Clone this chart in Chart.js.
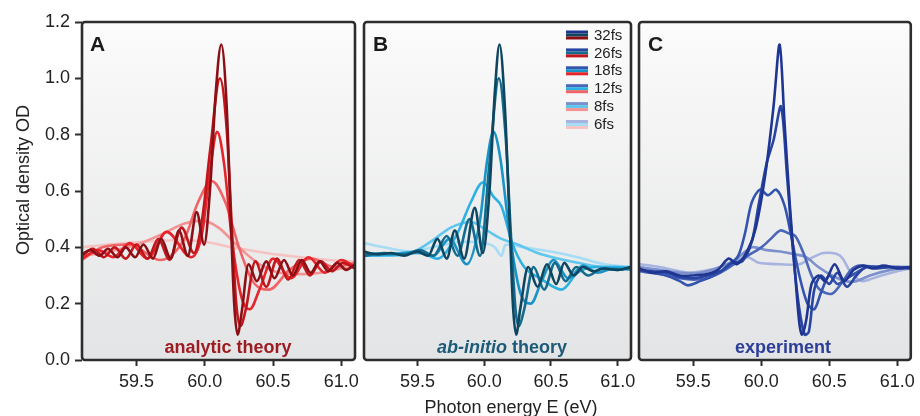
<!DOCTYPE html>
<html>
<head>
<meta charset="utf-8">
<script src="https://cdn.jsdelivr.net/npm/chart.js@4.4.0/dist/chart.umd.min.js"></script>
<style>
  body { margin: 0; background: #fff; }
  #wrap { position: relative; width: 920px; height: 416px; overflow: hidden; }
  #wrap canvas { position: absolute; left: 0; top: 0; }
</style>
</head>
<body>
<div id="wrap">
  <canvas id="panelA" width="920" height="416"></canvas>
  <canvas id="panelB" width="920" height="416"></canvas>
  <canvas id="panelC" width="920" height="416"></canvas>
</div>
<script>
const FONT = '"Liberation Sans", Arial, Helvetica, sans-serif';

// axis ranges + ticks
const xMin = 59.1, xMax = 61.1;
const xTicks = [59.5, 60.0, 60.5, 61.0];
const yTicks = [0, 0.2, 0.4, 0.6, 0.8, 1.0, 1.2];
const pulseLabels = ['32fs', '26fs', '18fs', '12fs', '8fs', '6fs'];

const redShades  = ['#8a1016', '#c2161d', '#e6242a', '#ef6467', '#f39394', '#f7c2c2'];
const tealShades = ['#0e4660', '#136c8e', '#1a94c6', '#2db1e3', '#5fc6ee', '#a6ddf5'];
const blueShades = ['#1e3591', '#2845a2', '#3453ae', '#4a66b8', '#7b90cc', '#a6b4df'];

// ---- A: analytic theory  [photon energy, OD]
const a32 = [[59.10,0.375],[59.16,0.39],[59.23,0.37],[59.29,0.395],[59.36,0.365],[59.42,0.40],[59.49,0.365],[59.55,0.41],[59.62,0.36],[59.68,0.43],[59.75,0.36],[59.81,0.46],[59.875,0.37],[59.94,0.525],[59.995,0.41],[60.04,0.62],[60.08,0.95],[60.12,1.12],[60.16,0.90],[60.19,0.50],[60.215,0.20],[60.24,0.09],[60.27,0.17],[60.32,0.34],[60.38,0.28],[60.45,0.35],[60.51,0.29],[60.58,0.355],[60.645,0.30],[60.71,0.355],[60.775,0.31],[60.84,0.35],[60.905,0.315],[60.97,0.345],[61.035,0.32],[61.1,0.34]];
const a26 = [[59.10,0.37],[59.18,0.395],[59.26,0.365],[59.34,0.40],[59.42,0.36],[59.50,0.41],[59.58,0.36],[59.66,0.43],[59.74,0.355],[59.83,0.47],[59.92,0.38],[59.98,0.50],[60.04,0.75],[60.11,1.00],[60.16,0.82],[60.20,0.45],[60.23,0.20],[60.26,0.12],[60.30,0.18],[60.37,0.35],[60.45,0.26],[60.53,0.36],[60.61,0.285],[60.69,0.355],[60.77,0.30],[60.85,0.35],[60.93,0.315],[61.01,0.345],[61.1,0.325]];
const a18 = [[59.10,0.36],[59.22,0.39],[59.33,0.365],[59.45,0.415],[59.58,0.36],[59.72,0.455],[59.90,0.365],[59.98,0.45],[60.04,0.68],[60.09,0.81],[60.14,0.70],[60.20,0.42],[60.27,0.22],[60.33,0.18],[60.40,0.25],[60.50,0.36],[60.63,0.29],[60.76,0.365],[60.88,0.31],[61.0,0.355],[61.1,0.33]];
const a12 = [[59.10,0.355],[59.25,0.40],[59.45,0.41],[59.67,0.355],[59.85,0.43],[59.95,0.56],[60.05,0.635],[60.15,0.56],[60.25,0.40],[60.35,0.28],[60.47,0.25],[60.62,0.32],[60.78,0.36],[60.95,0.33],[61.1,0.345]];
const a8  = [[59.10,0.37],[59.30,0.385],[59.50,0.41],[59.70,0.45],[59.85,0.485],[59.98,0.495],[60.10,0.47],[60.25,0.40],[60.40,0.34],[60.55,0.31],[60.72,0.305],[60.85,0.31],[61.0,0.325],[61.1,0.33]];
const a6  = [[59.10,0.40],[59.30,0.41],[59.55,0.42],[59.80,0.425],[60.00,0.42],[60.20,0.40],[60.45,0.38],[60.70,0.365],[60.90,0.355],[61.1,0.35]];

// ---- B: ab-initio theory
const b32 = [[59.10,0.385],[59.20,0.375],[59.30,0.38],[59.40,0.37],[59.50,0.385],[59.58,0.37],[59.65,0.43],[59.72,0.36],[59.78,0.46],[59.85,0.36],[59.93,0.54],[59.99,0.38],[60.04,0.60],[60.08,0.95],[60.115,1.12],[60.155,0.90],[60.19,0.50],[60.215,0.20],[60.24,0.09],[60.27,0.18],[60.33,0.33],[60.40,0.26],[60.47,0.34],[60.54,0.27],[60.60,0.345],[60.67,0.30],[60.74,0.33],[60.82,0.315],[60.90,0.325],[61.0,0.32],[61.1,0.33]];
const b26 = [[59.10,0.37],[59.25,0.38],[59.40,0.375],[59.52,0.39],[59.62,0.37],[59.72,0.44],[59.80,0.37],[59.89,0.50],[59.97,0.37],[60.04,0.70],[60.11,1.00],[60.16,0.80],[60.20,0.45],[60.235,0.18],[60.26,0.12],[60.30,0.18],[60.37,0.33],[60.45,0.25],[60.53,0.345],[60.61,0.28],[60.69,0.33],[60.78,0.30],[60.88,0.325],[61.0,0.32],[61.1,0.33]];
const b18 = [[59.10,0.38],[59.30,0.375],[59.50,0.38],[59.62,0.37],[59.74,0.43],[59.87,0.34],[59.97,0.50],[60.02,0.70],[60.07,0.81],[60.12,0.72],[60.19,0.45],[60.27,0.24],[60.35,0.20],[60.43,0.28],[60.52,0.355],[60.63,0.29],[60.74,0.335],[60.85,0.31],[60.97,0.325],[61.1,0.32]];
const b12 = [[59.10,0.37],[59.30,0.375],[59.50,0.385],[59.65,0.36],[59.80,0.45],[59.90,0.56],[59.99,0.63],[60.07,0.58],[60.13,0.545],[60.21,0.415],[60.30,0.33],[60.42,0.29],[60.58,0.25],[60.70,0.31],[60.85,0.33],[61.0,0.33],[61.1,0.325]];
const b8  = [[59.10,0.37],[59.25,0.37],[59.45,0.38],[59.60,0.42],[59.75,0.47],[59.90,0.49],[60.02,0.46],[60.13,0.43],[60.25,0.41],[60.40,0.38],[60.55,0.36],[60.70,0.345],[60.90,0.33],[61.1,0.33]];
const b6  = [[59.10,0.415],[59.25,0.40],[59.45,0.385],[59.65,0.405],[59.85,0.42],[60.00,0.415],[60.08,0.40],[60.13,0.37],[60.16,0.41],[60.30,0.40],[60.50,0.385],[60.70,0.365],[60.90,0.34],[61.1,0.33]];

// ---- C: experiment
const c32 = [[59.10,0.325],[59.20,0.31],[59.30,0.315],[59.40,0.30],[59.50,0.30],[59.60,0.305],[59.68,0.32],[59.76,0.36],[59.82,0.34],[59.90,0.39],[59.96,0.47],[60.03,0.66],[60.09,0.90],[60.135,1.12],[60.17,0.85],[60.21,0.55],[60.25,0.30],[60.28,0.13],[60.30,0.09],[60.33,0.14],[60.37,0.27],[60.42,0.30],[60.47,0.28],[60.54,0.34],[60.61,0.28],[60.68,0.32],[60.75,0.335],[60.82,0.325],[60.90,0.335],[61.0,0.325],[61.1,0.33]];
const c26 = [[59.10,0.32],[59.20,0.315],[59.30,0.31],[59.40,0.295],[59.50,0.29],[59.60,0.30],[59.70,0.315],[59.78,0.345],[59.86,0.35],[59.93,0.42],[59.98,0.55],[60.04,0.70],[60.09,0.78],[60.145,0.90],[60.19,0.65],[60.24,0.35],[60.28,0.18],[60.32,0.09],[60.35,0.10],[60.39,0.25],[60.44,0.30],[60.50,0.27],[60.56,0.31],[60.63,0.26],[60.70,0.30],[60.77,0.33],[60.85,0.325],[60.95,0.33],[61.1,0.325]];
const c18 = [[59.10,0.32],[59.20,0.31],[59.30,0.30],[59.40,0.28],[59.46,0.265],[59.55,0.28],[59.65,0.30],[59.75,0.33],[59.83,0.37],[59.88,0.45],[59.93,0.56],[59.99,0.605],[60.05,0.585],[60.11,0.605],[60.17,0.55],[60.22,0.44],[60.28,0.30],[60.34,0.20],[60.39,0.18],[60.44,0.24],[60.50,0.30],[60.56,0.27],[60.63,0.29],[60.70,0.31],[60.78,0.33],[60.90,0.33],[61.0,0.33],[61.1,0.33]];
const c12 = [[59.10,0.315],[59.25,0.305],[59.40,0.29],[59.50,0.285],[59.60,0.29],[59.70,0.31],[59.80,0.34],[59.90,0.37],[60.00,0.40],[60.07,0.43],[60.14,0.46],[60.20,0.45],[60.25,0.44],[60.31,0.38],[60.37,0.30],[60.43,0.25],[60.52,0.235],[60.60,0.28],[60.66,0.32],[60.72,0.335],[60.85,0.33],[61.0,0.33],[61.1,0.325]];
const c8  = [[59.10,0.33],[59.25,0.32],[59.40,0.31],[59.55,0.31],[59.70,0.33],[59.82,0.36],[59.93,0.40],[60.04,0.39],[60.14,0.385],[60.25,0.375],[60.33,0.365],[60.42,0.33],[60.52,0.30],[60.62,0.28],[60.70,0.28],[60.80,0.30],[60.95,0.32],[61.1,0.33]];
const c6  = [[59.10,0.34],[59.25,0.33],[59.46,0.31],[59.62,0.32],[59.78,0.345],[59.90,0.365],[59.98,0.345],[60.14,0.34],[60.28,0.34],[60.36,0.36],[60.46,0.38],[60.58,0.37],[60.66,0.31],[60.74,0.28],[60.85,0.295],[61.0,0.315],[61.1,0.325]];

// panel boxes (pixels)
const PANEL_TOP = 22, PANEL_BOTTOM = 360, W = 920;

function drawLetter(ctx, txt, x) {
  ctx.save();
  ctx.font = 'bold 21px ' + FONT;
  ctx.fillStyle = '#1a1a1a';
  ctx.textBaseline = 'alphabetic';
  ctx.fillText(txt, x, 51);
  ctx.restore();
}

function drawCaption(ctx, parts, cx, color) {
  // parts = [[text, italic], ...]
  ctx.save();
  ctx.fillStyle = color;
  ctx.textBaseline = 'alphabetic';
  let total = 0;
  parts.forEach(p => { ctx.font = (p[1] ? 'italic ' : '') + 'bold 18px ' + FONT; total += ctx.measureText(p[0]).width; });
  let x = cx - total / 2;
  parts.forEach(p => {
    ctx.font = (p[1] ? 'italic ' : '') + 'bold 18px ' + FONT;
    ctx.fillText(p[0], x, 352.5);
    x += ctx.measureText(p[0]).width;
  });
  ctx.restore();
}

function drawLegend(ctx) {
  ctx.save();
  ctx.font = '15px ' + FONT;
  ctx.fillStyle = '#222';
  ctx.textBaseline = 'middle';
  pulseLabels.forEach((lab, i) => {
    const y = 35 + i * 17.9;
    ctx.fillStyle = blueShades[i]; ctx.fillRect(566, y - 4.5, 22, 3);
    ctx.fillStyle = tealShades[i]; ctx.fillRect(566, y - 1.5, 22, 3);
    ctx.fillStyle = redShades[i];  ctx.fillRect(566, y + 1.5, 22, 3);
    ctx.fillStyle = '#222';
    ctx.fillText(lab, 594, y + 0.5);
  });
  ctx.restore();
}

function makePanel(id, series, colors, left, right, withY, tension, decorate) {
  const datasets = series.map((d, i) => ({
    label: pulseLabels[i],
    data: d,
    borderColor: colors[i],
    borderWidth: 2.6,
    pointRadius: 0,
    fill: false,
    cubicInterpolationMode: tension ? 'default' : 'monotone',
    tension: tension || 0
  }));

  const yScale = withY ? {
    min: 0, max: 1.2,
    afterBuildTicks: s => { s.ticks = yTicks.map(v => ({ value: v })); },
    afterFit: s => { s.width = left; },
    grid: { drawOnChartArea: false, drawTicks: true, tickLength: 7, tickWidth: 2, tickColor: '#2d2d2d' },
    border: { display: false },
    ticks: { font: { family: FONT, size: 18 }, color: '#222', padding: 5, callback: v => v.toFixed(1) }
  } : { display: false, min: 0, max: 1.2 };

  const framePlugin = {
    id: 'frame_' + id,
    beforeDraw(chart) {
      const { ctx, chartArea: a } = chart;
      const g = ctx.createLinearGradient(0, a.top, 0, a.bottom);
      g.addColorStop(0, '#fbfbfb');
      g.addColorStop(1, '#e3e4e5');
      ctx.save();
      ctx.fillStyle = g;
      ctx.fillRect(a.left, a.top, a.right - a.left, a.bottom - a.top);
      ctx.restore();
    },
    afterDatasetsDraw(chart) {
      const { ctx, chartArea: a } = chart;
      ctx.save();
      ctx.strokeStyle = '#2d2d2d';
      ctx.lineWidth = 2.6;
      ctx.beginPath();
      ctx.roundRect(a.left, a.top, a.right - a.left, a.bottom - a.top, 3);
      ctx.stroke();
      ctx.restore();
    },
    afterDraw(chart) { decorate(chart.ctx); }
  };

  return new Chart(document.getElementById(id), {
    type: 'line',
    data: { datasets },
    options: {
      responsive: false,
      devicePixelRatio: 1,
      animation: false,
      events: [],
      layout: { padding: { top: PANEL_TOP, bottom: 0, left: withY ? 0 : left, right: W - right } },
      plugins: { legend: { display: false }, tooltip: { enabled: false } },
      scales: {
        x: {
          type: 'linear', min: xMin, max: xMax,
          afterBuildTicks: s => { s.ticks = xTicks.map(v => ({ value: v })); },
          afterFit: s => { s.height = 416 - PANEL_BOTTOM; },
          grid: { drawOnChartArea: false, drawTicks: true, tickLength: 6, tickWidth: 2, tickColor: '#2d2d2d' },
          border: { display: false },
          ticks: { font: { family: FONT, size: 18 }, color: '#222', padding: 5, maxRotation: 0, autoSkip: false, callback: v => v.toFixed(1) }
        },
        y: yScale
      }
    },
    plugins: [framePlugin]
  });
}

makePanel('panelA', [a32, a26, a18, a12, a8, a6], redShades, 82, 355, true, 0, ctx => {
  drawLetter(ctx, 'A', 90);
  drawCaption(ctx, [['analytic theory', false]], 228, '#9c1c22');
  ctx.save();
  ctx.font = '18px ' + FONT;
  ctx.fillStyle = '#222';
  ctx.textAlign = 'center';
  ctx.translate(29, 180);
  ctx.rotate(-Math.PI / 2);
  ctx.fillText('Optical density OD', 0, 0);
  ctx.restore();
});

makePanel('panelB', [b32, b26, b18, b12, b8, b6], tealShades, 364, 631, false, 0, ctx => {
  drawLetter(ctx, 'B', 373);
  drawCaption(ctx, [['ab-initio', true], [' theory', false]], 502, '#1c5b77');
  drawLegend(ctx);
  ctx.save();
  ctx.font = '18px ' + FONT;
  ctx.fillStyle = '#222';
  ctx.textAlign = 'center';
  ctx.fillText('Photon energy E (eV)', 511, 413);
  ctx.restore();
});

makePanel('panelC', [c32, c26, c18, c12, c8, c6], blueShades, 639, 914, false, 0.3, ctx => {
  drawLetter(ctx, 'C', 648);
  drawCaption(ctx, [['experiment', false]], 783, '#2c3e97');
});
</script>
</body>
</html>
